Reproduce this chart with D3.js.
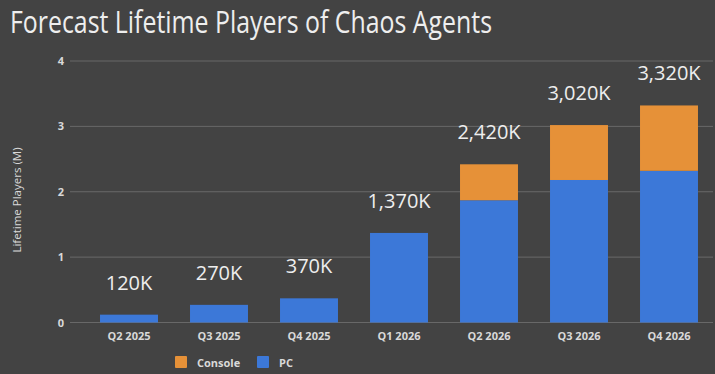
<!DOCTYPE html>
<html>
<head>
<meta charset="utf-8">
<script src="https://cdn.jsdelivr.net/npm/d3@7"></script>
<style>
  html, body { margin: 0; padding: 0; background: #434343; }
  svg { display: block; }
</style>
</head>
<body>
<script>
const w = 715
const h = 374

const quarters = ['Q2 2025', 'Q3 2025', 'Q4 2025', 'Q1 2026', 'Q2 2026', 'Q3 2026', 'Q4 2026']
const pc = [0.12, 0.27, 0.37, 1.37, 1.87, 2.18, 2.32]
const consoleVals = [0, 0, 0, 0, 0.55, 0.84, 1.00]
const totalLabels = ['120K', '270K', '370K', '1,370K', '2,420K', '3,020K', '3,320K']
const yTicks = [0, 1, 2, 3, 4]

const colors = { Console: '#e69138', PC: '#3c78d8' }
const font = '"Open Sans", sans-serif'

const svg = d3.select('body').append('svg').attr('width', w).attr('height', h)
svg.append('rect').attr('width', w).attr('height', h).attr('fill', '#434343')

svg.append('text').text('Forecast Lifetime Players of Chaos Agents')
  .attr('x', 10).attr('y', 33)
  .attr('fill', '#eeeeee').style('font-family', font).style('font-size', '31px')
  .attr('textLength', 482).attr('lengthAdjust', 'spacingAndGlyphs')

const x = d3.scaleBand().domain(quarters).range([84, 714]).paddingInner(0.356).paddingOuter(0.178)
const y = d3.scaleLinear().domain([0, 4]).range([322.5, 61])

// gridlines
svg.append('g').selectAll('line').data(yTicks).enter().append('line')
  .attr('x1', 70).attr('x2', 713)
  .attr('y1', d => y(d)).attr('y2', d => y(d))
  .attr('stroke', '#686868').attr('stroke-width', 1)

// y tick labels
svg.append('g').selectAll('text').data(yTicks).enter().append('text')
  .text(d => d)
  .attr('x', 64).attr('y', d => y(d) + 4)
  .attr('text-anchor', 'end').attr('fill', '#d9d9d9')
  .style('font-family', font).style('font-size', '11px').style('font-weight', 'bold')

svg.append('text').text('Lifetime Players (M)')
  .attr('transform', 'translate(21,' + 200 + ') rotate(-90)')
  .attr('text-anchor', 'middle').attr('fill', '#d9d9d9')
  .style('font-family', font).style('font-size', '11.5px')

const rows = quarters.map((q, i) => ({ q: q, PC: pc[i], Console: consoleVals[i] }))
const stack = d3.stack().keys(['PC', 'Console'])(rows)

svg.append('g').selectAll('g').data(stack).enter().append('g')
  .attr('fill', d => colors[d.key])
  .selectAll('rect').data(d => d.filter(e => e[1] > e[0])).enter().append('rect')
  .attr('x', d => x(d.data.q))
  .attr('y', d => y(d[1]))
  .attr('width', x.bandwidth())
  .attr('height', d => y(d[0]) - y(d[1]))

// total labels
svg.append('g').selectAll('text').data(rows).enter().append('text')
  .text((d, i) => totalLabels[i])
  .attr('x', d => x(d.q) + x.bandwidth() / 2)
  .attr('y', d => y(d.PC + d.Console) - 25)
  .attr('text-anchor', 'middle').attr('fill', '#eeeeee')
  .style('font-family', font).style('font-size', '20px')

// x labels
svg.append('g').selectAll('text').data(quarters).enter().append('text')
  .text(d => d)
  .attr('x', d => x(d) + x.bandwidth() / 2).attr('y', 340)
  .attr('text-anchor', 'middle').attr('fill', '#d9d9d9')
  .style('font-family', font).style('font-size', '11px').style('font-weight', 'bold')

// legend
const legendItems = [{ k: 'Console', x: 175 }, { k: 'PC', x: 257 }]
const lg = svg.append('g').selectAll('g').data(legendItems).enter().append('g')
  .attr('transform', d => 'translate(' + d.x + ',356)')
lg.append('rect').attr('width', 12).attr('height', 12).attr('rx', 1).attr('fill', d => colors[d.k])
lg.append('text').text(d => d.k).attr('x', 22).attr('y', 10.5)
  .attr('fill', '#d9d9d9').style('font-family', font).style('font-size', '11px').style('font-weight', 'bold')
</script>
</body>
</html>
